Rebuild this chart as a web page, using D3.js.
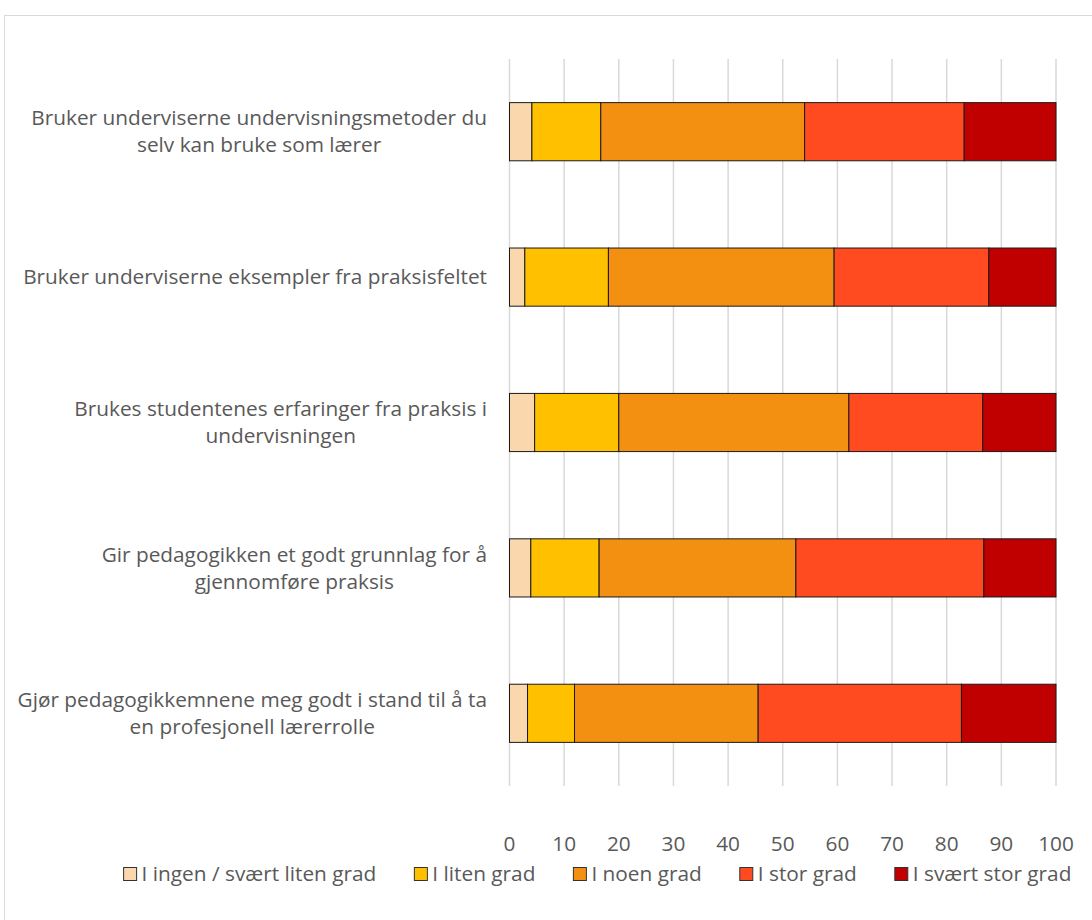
<!DOCTYPE html>
<html>
<head>
<meta charset="utf-8">
<script src="https://cdn.jsdelivr.net/npm/d3@7"></script>
<style>
  body { margin: 0; background: #fff; }
  text { font-family: "Open Sans", "Noto Sans", sans-serif; fill: #595959; }
</style>
</head>
<body>
<div id="chart"></div>
<script>
// categories (label lines), top to bottom
const categories = [
    ["Bruker underviserne undervisningsmetoder du", "selv kan bruke som lærer"],
    ["Bruker underviserne eksempler fra praksisfeltet"],
    ["Brukes studentenes erfaringer fra praksis i", "undervisningen"],
    ["Gir pedagogikken et godt grunnlag for å", "gjennomføre praksis"],
    ["Gjør pedagogikkemnene meg godt i stand til å ta", "en profesjonell lærerrolle"]
];
const seriesNames = ["I ingen / svært liten grad", "I liten grad", "I noen grad", "I stor grad", "I svært stor grad"];
const seriesColors = ["#FAD7AC", "#FFC000", "#F39012", "#FF4B1F", "#C00000"];

// percent per series, one value per category
const ingen = [4.1, 2.8, 4.6, 3.9, 3.3];
const liten = [12.6, 15.3, 15.4, 12.5, 8.6];
const noen = [37.3, 41.3, 42.1, 36.0, 33.6];
const stor = [29.2, 28.3, 24.5, 34.4, 37.2];
const sværtStor = [16.8, 12.3, 13.4, 13.2, 17.3];

const xTicks = [0, 10, 20, 30, 40, 50, 60, 70, 80, 90, 100];

const W = 1092, H = 920;
const margin = {top: 59, right: 36, bottom: 134, left: 509.5};
const fontSize = "20.8px";

const svg = d3.select("#chart").append("svg")
    .attr("width", W)
    .attr("height", H);

// chart border
svg.append("rect")
    .attr("x", 4.5).attr("y", 15.5)
    .attr("width", W + 20).attr("height", H + 20)
    .attr("fill", "none")
    .attr("stroke", "#D9D9D9")
    .attr("stroke-width", 1);

const x = d3.scaleLinear().domain([0, 100]).range([margin.left, W - margin.right]);
const y = d3.scaleBand().domain(d3.range(categories.length))
    .range([margin.top, H - margin.bottom])
    .paddingInner(0.6).paddingOuter(0.3);

// gridlines
svg.append("g")
    .selectAll("line")
    .data(xTicks)
    .enter()
    .append("line")
    .attr("x1", d => x(d)).attr("x2", d => x(d))
    .attr("y1", margin.top).attr("y2", H - margin.bottom)
    .attr("stroke", "#D9D9D9")
    .attr("stroke-width", 1.5);

// stack data
const table = categories.map((c, i) => ({
    i: i,
    s0: ingen[i], s1: liten[i], s2: noen[i], s3: stor[i], s4: sværtStor[i]
}));
const keys = ["s0", "s1", "s2", "s3", "s4"];
const stacked = d3.stack().keys(keys)(table);

svg.append("g")
    .selectAll("g")
    .data(stacked)
    .enter()
    .append("g")
    .attr("fill", (d, k) => seriesColors[k])
    .selectAll("rect")
    .data(d => d)
    .enter()
    .append("rect")
    .attr("x", d => x(d[0]))
    .attr("y", d => y(d.data.i))
    .attr("width", d => x(d[1]) - x(d[0]))
    .attr("height", y.bandwidth())
    .attr("stroke", "#1a1a1a")
    .attr("stroke-width", 1);

// category labels: block right-aligned at 487, lines centred within block
const lineH = 27;
const labelRight = 487;
const labels = svg.append("g")
    .selectAll("text")
    .data(categories)
    .enter()
    .append("text")
    .attr("text-anchor", "middle")
    .attr("font-size", fontSize)
    .attr("y", (d, i) => y(i) + y.bandwidth() / 2 - (d.length - 1) * lineH / 2);
labels.selectAll("tspan")
    .data(d => d)
    .enter()
    .append("tspan")
    .attr("x", 0)
    .attr("dy", (d, j) => j === 0 ? "0.35em" : lineH)
    .text(d => d);
labels.each(function () {
    const w = this.getBBox().width;
    d3.select(this).selectAll("tspan").attr("x", labelRight - w / 2);
});

// x axis labels
svg.append("g")
    .selectAll("text")
    .data(xTicks)
    .enter()
    .append("text")
    .attr("x", d => x(d))
    .attr("y", 844)
    .attr("dy", "0.35em")
    .attr("text-anchor", "middle")
    .attr("font-size", fontSize)
    .text(d => d);

// legend
const legend = svg.append("g");
const items = legend.selectAll("g")
    .data(seriesNames)
    .enter()
    .append("g");
items.append("rect")
    .attr("width", 13).attr("height", 13)
    .attr("y", -6.5)
    .attr("fill", (d, k) => seriesColors[k])
    .attr("stroke", "#333")
    .attr("stroke-width", 1);
items.append("text")
    .attr("x", 18)
    .attr("dy", "0.35em")
    .attr("font-size", fontSize)
    .text(d => d);
let widths = [];
items.each(function () { widths.push(this.getBBox().width); });
const gap = 38;
const total = d3.sum(widths) + gap * (widths.length - 1);
let lx = 597.5 - total / 2;
items.attr("transform", (d, k) => {
    const t = `translate(${lx}, 874)`;
    lx += widths[k] + gap;
    return t;
});
</script>
</body>
</html>
